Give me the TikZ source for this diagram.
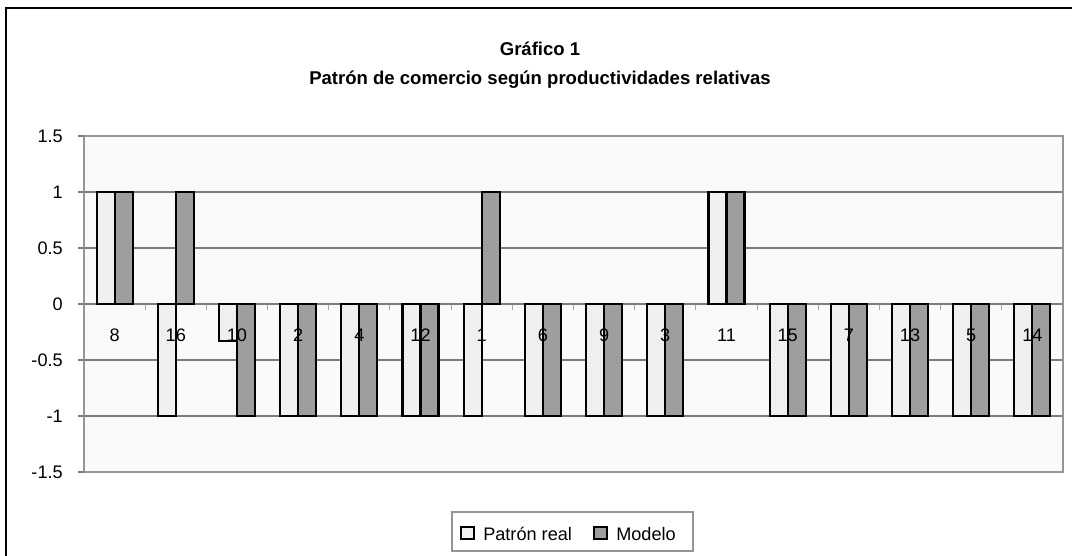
\documentclass[tikz,border=0pt]{standalone}
\usepackage{fontspec}
\setmainfont{Liberation Sans}
\definecolor{lightbar}{HTML}{EFEFEF}
\definecolor{darkbar}{HTML}{9E9E9E}
\definecolor{plotbg}{HTML}{FAFAFA}
\definecolor{gridc}{HTML}{7C7C7C}
\definecolor{borderc}{HTML}{959595}
\definecolor{tickc}{HTML}{A8A8A8}
\tikzset{
  barline/.style={draw=black, line width=1.6pt},
  lightbarstyle/.style={barline, fill=lightbar},
  darkbarstyle/.style={barline, fill=darkbar},
  gridline/.style={draw=gridc, line width=0.8pt},
  axlabel/.style={font=\fontsize{13.6}{16}\selectfont, inner sep=0pt},
  titletext/.style={font=\bfseries\fontsize{13.9}{16}\selectfont, inner sep=0pt, anchor=base},
}
\begin{document}
\begin{tikzpicture}[x=0.75pt,y=-0.75pt]
\useasboundingbox (0,0) rectangle (1072,556);
\fill[white] (0,0) rectangle (1072,556);
% outer frame
\draw[line width=1.6pt] (6,556) -- (6,8) -- (1072,8);
% titles
\node[titletext] (t1) at (540,56) {Gráfico 1};
\node[titletext] (t2) at (540,85) {Patrón de comercio según productividades relativas};
% plot area
\fill[plotbg] (84,136) rectangle (1063,472);
\foreach \yy in {192,248,304,360,416} {
  \draw[gridline] (84,\yy) -- (1063,\yy);
}
\draw[draw=borderc, line width=1.2pt] (84,136) rectangle (1063,472);
% y ticks and labels
\foreach \yy/\lab [count=\k] in {136/1.5,192/1,248/0.5,304/0,360/-0.5,416/-1,472/-1.5} {
  \draw[gridc, line width=0.8pt] (78,\yy) -- (84,\yy);
  \node[axlabel, anchor=east] (y\k) at (63,\yy) {\lab};
}
% x ticks
\foreach \k in {1,...,15} {
  \draw[tickc, line width=0.8pt] ({84+\k*61.1875},305) -- ({84+\k*61.1875},310);
}
% bars
\foreach \i/\r/\m in {0/1/1,1/-1/1,2/-0.33/-1,3/-1/-1,4/-1/-1,5/-1/-1,6/-1/1,7/-1/-1,8/-1/-1,9/-1/-1,10/1/1,11/-1/-1,12/-1/-1,13/-1/-1,14/-1/-1,15/-1/-1} {
  \pgfmathsetmacro\cx{84+(\i+0.5)*61.1875}
  \draw[lightbarstyle] ({\cx-18},304) rectangle (\cx,{304-\r*112});
  \draw[darkbarstyle] (\cx,304) rectangle ({\cx+18},{304-\m*112});
}
% category labels
\foreach \i/\lab in {0/8,1/16,2/10,3/2,4/4,5/12,6/1,7/6,8/9,9/3,10/11,11/15,12/7,13/13,14/5,15/14} {
  \node[axlabel, anchor=base] (c\i) at ({84+(\i+0.5)*61.1875},341) {\lab};
}
% legend
\draw[draw=borderc, line width=0.9pt, fill=white] (452,512) rectangle (693,551);
\draw[lightbarstyle, line width=1.3pt] (461,527) rectangle (474,539);
\node[axlabel, anchor=base west] (l1) at (483,540) {Patrón real};
\draw[darkbarstyle, line width=1.3pt] (594,527) rectangle (607,539);
\node[axlabel, anchor=base west] (l2) at (616,540) {Modelo};
\end{tikzpicture}
\end{document}
